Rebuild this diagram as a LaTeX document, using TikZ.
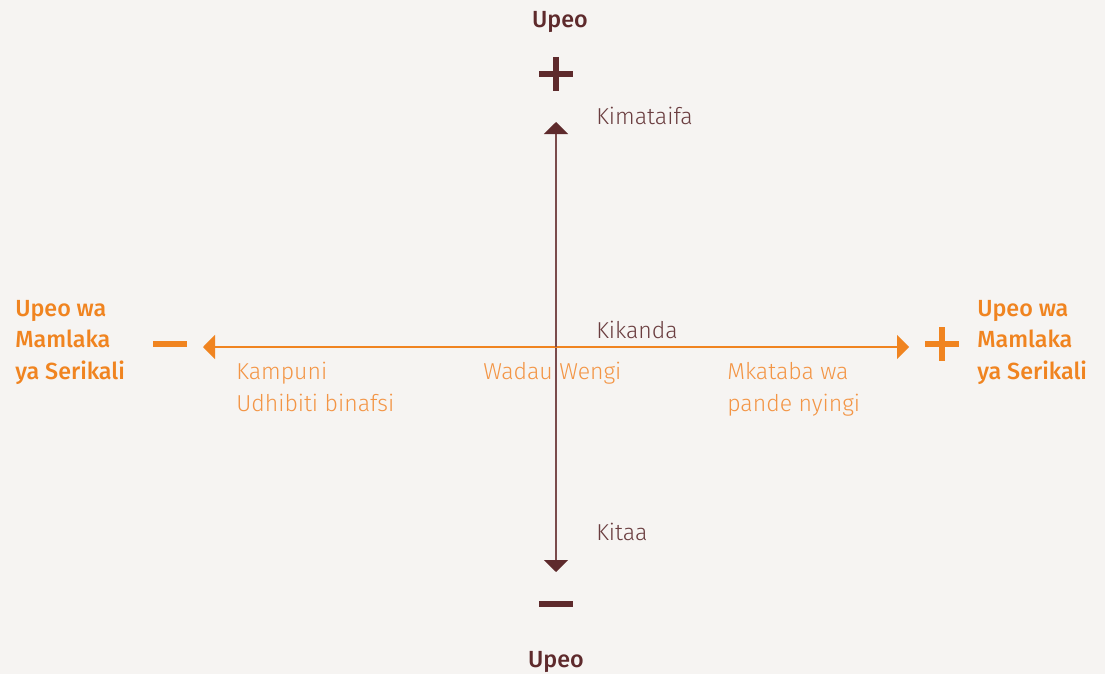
\documentclass[tikz,border=0pt]{standalone}
\usepackage{fontspec}
\setmainfont{Fira Sans}
\newfontfamily\lightfont{Fira Sans Light}
\newfontfamily\medfont{Fira Sans Medium}
\usetikzlibrary{arrows.meta}
\definecolor{bg}{HTML}{F6F4F2}
\definecolor{brown}{HTML}{5E2A2C}
\definecolor{brownline}{HTML}{7A4B4C}
\definecolor{brownlabel}{HTML}{6A3D3F}
\definecolor{orange}{HTML}{F08420}
\definecolor{orangelabel}{HTML}{F39545}
\tikzset{
  lbl/.style={font=\lightfont\fontsize{17.3}{24}\selectfont, inner sep=0pt, anchor=west},
  ttl/.style={font=\medfont\fontsize{17.5}{23.6}\selectfont, inner sep=0pt},
  sym/.style={line width=4.5pt},
}
\begin{document}
\begin{tikzpicture}[x=0.75pt,y=-0.75pt]
\useasboundingbox (0,0) rectangle (1105,674);
\fill[bg] (0,0) rectangle (1105,674);
% axes
\coordinate (c) at (556,347);
\coordinate (vt) at (556,122);
\coordinate (vb) at (556,572);
\coordinate (hl) at (203,347);
\coordinate (hr) at (909,347);
\draw[brownline, line width=1.4pt, -{Triangle[width=18pt,length=9pt,color=brown]}] (c) -- (vt);
\draw[brownline, line width=1.4pt, -{Triangle[width=18pt,length=9pt,color=brown]}] (c) -- (vb);
\draw[orange, line width=1.1pt, {Triangle[width=18pt,length=9pt]}-{Triangle[width=18pt,length=9pt]}] (hl) -- (hr);
\draw[brownline, line width=1.4pt] (c) -- ++(0,-7);
% symbols
\draw[brown, sym] (539,74) -- (573,74) (556,57) -- (556,91);
\draw[brown, sym] (539,604) -- (573,604);
\draw[orange, sym] (153,344) -- (187,344);
\draw[orange, sym] (925,344) -- (959,344) (942,327) -- (942,361);
% titles
\node[ttl, brown] (tt) at (560,22) {Upeo};
\node[ttl, brown] (tb) at (556,662) {Upeo};
\node[ttl, orange, anchor=north west, align=left] (tl) at (15,300) {Upeo wa\\Mamlaka\\ya Serikali};
\node[ttl, orange, anchor=north west, align=left] (tr) at (977,300) {Upeo wa\\Mamlaka\\ya Serikali};
% labels
\node[lbl, brownlabel] (kim) at (596,116) {Kimataifa};
\node[lbl, brownlabel] (kik) at (596,330) {Kikanda};
\node[lbl, brownlabel] (kit) at (596,532) {Kitaa};
\node[lbl, orangelabel, anchor=north west, align=left] (kam) at (236,362) {Kampuni\\Udhibiti binafsi};
\node[lbl, orangelabel] (wad) at (483,373) {Wadau Wengi};
\node[lbl, orangelabel, anchor=north west, align=left] (mka) at (727,362) {Mkataba wa\\pande nyingi};
\end{tikzpicture}
\end{document}
